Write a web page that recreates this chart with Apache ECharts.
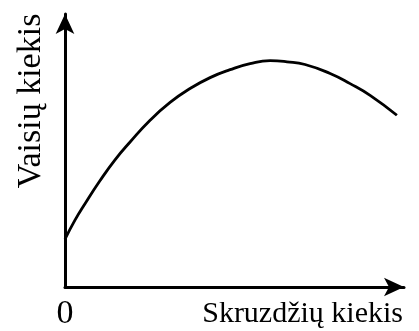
<!DOCTYPE html>
<html>
<head>
<meta charset="utf-8">
<script src="https://cdn.jsdelivr.net/npm/echarts@6/dist/echarts.min.js"></script>
<style>html,body{margin:0;padding:0;background:#fff}#c{width:419px;height:331px}</style>
</head>
<body>
<div id="c"></div>
<script>
var xLabel = 'Skruzdžių kiekis';
var yLabel = 'Vaisių kiekis';
var originLabel = '0';
var antsX = [0, 0.29, 0.59, 1.03, 1.47, 1.92, 2.51, 3.10, 3.69, 4.28, 4.87, 5.46, 6.05, 6.55, 7.08, 7.82, 8.41, 9.00, 9.79];
var fruitY = [1.75, 2.44, 3.05, 3.89, 4.65, 5.31, 6.11, 6.76, 7.27, 7.67, 7.96, 8.18, 8.29, 8.25, 8.15, 7.82, 7.45, 7.02, 6.29];

var chart = echarts.init(document.getElementById('c'), null, {renderer: 'canvas'});
var fam = 'Liberation Serif';
chart.setOption({
  animation: false,
  grid: {left: 65, right: 15, top: 14, bottom: 42},
  xAxis: {
    type: 'value', min: 0, max: 10, interval: 10,
    axisLine: {show: true, symbol: ['none', 'arrow'], symbolSize: [14, 20], lineStyle: {color: '#000', width: 3}},
    axisTick: {show: false},
    splitLine: {show: false},
    axisLabel: {
      color: '#000', fontFamily: fam, fontSize: 34, margin: 10,
      formatter: function (v) { return v === 0 ? originLabel : ''; }
    }
  },
  yAxis: {
    type: 'value', min: 0, max: 10,
    axisLine: {show: true, symbol: ['none', 'arrow'], symbolSize: [14, 20], lineStyle: {color: '#000', width: 3}},
    axisTick: {show: false},
    splitLine: {show: false},
    axisLabel: {show: false}
  },
  graphic: [
    {type: 'text', right: 16, top: 299, style: {text: xLabel, fontFamily: fam, fontSize: 30, fill: '#000'}},
    {type: 'text', x: 31, y: 101, rotation: Math.PI / 2, style: {text: yLabel, fontFamily: fam, fontSize: 34, fill: '#000', align: 'center', verticalAlign: 'middle'}}
  ],
  series: [{
    type: 'line', smooth: 0.5, showSymbol: false,
    data: antsX.map(function (x, i) { return [x, fruitY[i]]; }),
    lineStyle: {color: '#000', width: 2.8}
  }]
});
</script>
</body>
</html>
